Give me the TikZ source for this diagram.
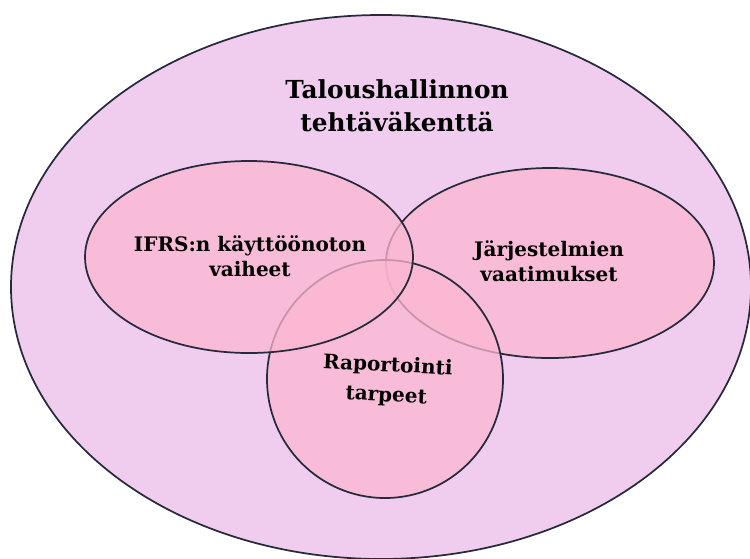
\documentclass[tikz,border=0pt]{standalone}
\usepackage{fontspec}
\setmainfont{DejaVu Serif}
\usetikzlibrary{shapes.geometric}
\definecolor{outerfill}{HTML}{F0CDEE}
\definecolor{setfill}{HTML}{FBB7D1}
\definecolor{setline}{HTML}{262A3A}
\tikzset{
  setshape/.style={ellipse, draw=setline, line width=1.3pt, fill=setfill, fill opacity=0.75, inner sep=0pt},
  setlabel/.style={align=center, font=\bfseries\fontsize{15}{19}\selectfont, text=black}
}
\begin{document}
\begin{tikzpicture}[x=0.75pt, y=-0.75pt]
\useasboundingbox (0,0) rectangle (750,558);
\node[ellipse, draw=setline, line width=1.3pt, fill=outerfill, inner sep=0pt, minimum width=555pt, minimum height=408pt] (outer) at (381,287){};
\node[align=center, font=\bfseries\fontsize{18.6}{25}\selectfont] (outertext) at (397,106){Taloushallinnon\\tehtäväkenttä};
\node[setshape, minimum width=246pt, minimum height=142.5pt] (jarj) at (550,263){};
\node[setshape, minimum width=177pt, minimum height=178.5pt] (rap) at (385,379){};
\node[setshape, minimum width=246pt, minimum height=144pt] (ifrs) at (249,257){};
\node[setlabel] (ifrstext) at (250,256){IFRS:n käyttöönoton\\vaiheet};
\node[setlabel] (jarjtext) at (549,261){Järjestelmien\\vaatimukset};
\node[setlabel, rotate=-3, font=\bfseries\fontsize{15}{22.5}\selectfont] (raptext) at (387,381){Raportointi\\tarpeet};
\end{tikzpicture}
\end{document}
